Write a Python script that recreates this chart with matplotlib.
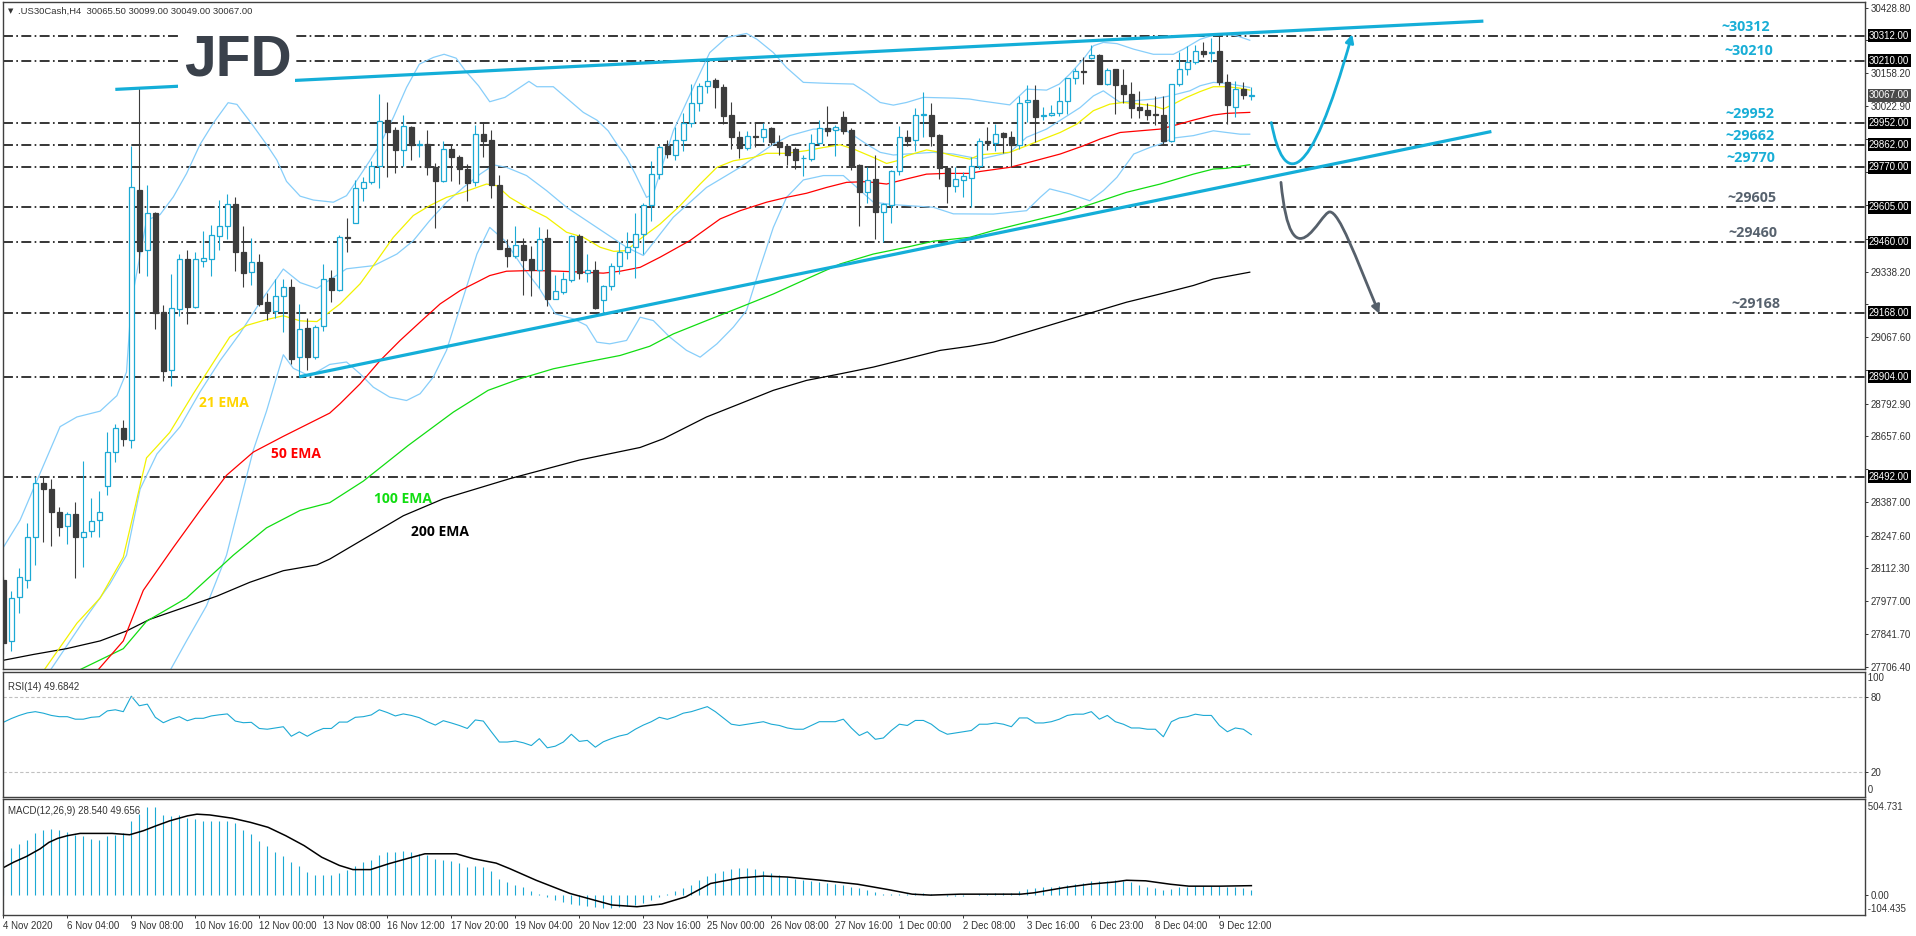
import numpy as np
import matplotlib
matplotlib.use("Agg")
import matplotlib.pyplot as plt
from matplotlib.patches import Rectangle, FancyArrowPatch
from matplotlib.path import Path

W, H = 1916, 936

# ---- price data (H4 candles) ----
opens = [28063, 27813, 27993, 28066, 28244, 28465, 28441, 28344, 28288, 28339,
         28241, 28267, 28312, 28453, 28593, 28691, 28642, 29675, 29426, 29579,
         29171, 28931, 29183, 29389, 29191, 29384, 29389, 29486, 29526, 29619,
         29421, 29336, 29376, 29212, 29175, 29236, 29273, 28984, 29105, 28987,
         29113, 29312, 29263, 29482, 29539, 29684, 29707, 29773, 29964, 29923,
         29840, 29935, 29862, 29867, 29769, 29714, 29846, 29810, 29763, 29707,
         29906, 29883, 29697, 29436, 29402, 29449, 29391, 29347, 29477, 29226,
         29253, 29304, 29486, 29333, 29343, 29222, 29279, 29361, 29421, 29439,
         29494, 29613, 29741, 29858, 29820, 29883, 29952, 30034, 30104, 30129,
         30102, 29985, 29895, 29849, 29896, 29895, 29931, 29875, 29858, 29846,
         29806, 29803, 29869, 29931, 29923, 29978, 29924, 29780, 29666, 29721,
         29583, 29615, 29755, 29895, 29882, 29985, 29985, 29904, 29766, 29693,
         29718, 29725, 29773, 29879, 29868, 29911, 29895, 29862, 30037, 30048,
         29982, 29986, 29993, 30044, 30137, 30166, 30220, 30234, 30115, 30174,
         30109, 30071, 30019, 30007, 29988, 29986, 29876, 30113, 30177, 30203,
         30250, 30242, 30250, 30122, 30020, 30092, 30065.5]
highs = [28075, 28019, 28116, 28301, 28492, 28492, 28481, 28365, 28344, 28387,
         28558, 28405, 28432, 28674, 28707, 28727, 29856, 30097, 29698, 29585,
         29199, 29328, 29413, 29429, 29421, 29505, 29531, 29635, 29659, 29646,
         29526, 29478, 29413, 29249, 29309, 29309, 29309, 29204, 29145, 29116,
         29370, 29345, 29490, 29560, 29717, 29730, 29796, 30071, 30040, 29937,
         29986, 29940, 29882, 29924, 29785, 29876, 29865, 29821, 29781, 29945,
         29957, 29924, 29739, 29473, 29528, 29477, 29443, 29523, 29515, 29326,
         29336, 29490, 29494, 29411, 29384, 29282, 29373, 29460, 29501, 29579,
         29620, 29796, 29862, 29883, 29934, 29993, 30115, 30118, 30212, 30140,
         30113, 30040, 29920, 29920, 29952, 29952, 29935, 29904, 29865, 29851,
         29821, 29906, 29966, 30023, 29944, 30003, 29931, 29783, 29769, 29820,
         29620, 29757, 29941, 29924, 30014, 30081, 30036, 29906, 29769, 29769,
         29748, 29813, 29889, 29934, 29950, 29917, 29920, 30062, 30109, 30109,
         30019, 30026, 30102, 30140, 30181, 30225, 30275, 30236, 30179, 30176,
         30174, 30122, 30085, 30034, 30064, 30064, 30115, 30246, 30271, 30274,
         30287, 30305, 30319, 30154, 30126, 30120, 30099]
lows = [27757, 27773, 27929, 28030, 28127, 28223, 28207, 28248, 28215, 28071,
        28119, 28244, 28244, 28416, 28553, 28617, 28609, 29333, 29322, 29100,
        28888, 28867, 29153, 29124, 29187, 29357, 29322, 29429, 29474, 29341,
        29273, 29281, 29196, 29137, 29148, 29087, 28955, 28904, 28934, 28979,
        29092, 29212, 29257, 29418, 29539, 29631, 29700, 29682, 29728, 29744,
        29776, 29799, 29810, 29739, 29517, 29707, 29714, 29700, 29629, 29690,
        29810, 29642, 29431, 29356, 29394, 29240, 29237, 29270, 29196, 29226,
        29246, 29295, 29308, 29295, 29185, 29167, 29263, 29329, 29391, 29312,
        29411, 29549, 29721, 29807, 29799, 29838, 29937, 30000, 30078, 30016,
        29950, 29844, 29807, 29840, 29854, 29872, 29862, 29821, 29780, 29763,
        29735, 29796, 29862, 29900, 29817, 29906, 29758, 29526, 29620, 29471,
        29460, 29538, 29739, 29858, 29838, 29893, 29858, 29721, 29620, 29668,
        29645, 29604, 29762, 29842, 29835, 29828, 29772, 29845, 29955, 29872,
        29964, 29982, 29982, 29990, 30113, 30115, 30216, 30113, 30109, 29990,
        30033, 29971, 29971, 29964, 29945, 29861, 29874, 30106, 30151, 30195,
        30225, 30206, 30110, 29950, 29975, 30051, 30049]
closes = [27805, 27990, 28079, 28244, 28465, 28442, 28344, 28285, 28339, 28244,
          28264, 28309, 28347, 28592, 28691, 28646, 29687, 29425, 29579, 29167,
          28928, 29188, 29389, 29193, 29389, 29394, 29489, 29526, 29619, 29421,
          29333, 29376, 29204, 29177, 29236, 29273, 28979, 29100, 28987, 29108,
          29309, 29263, 29480, 29478, 29684, 29707, 29773, 29960, 29917, 29840,
          29939, 29860, 29864, 29769, 29711, 29846, 29810, 29761, 29706, 29906,
          29879, 29697, 29433, 29402, 29449, 29387, 29343, 29473, 29226, 29259,
          29308, 29486, 29333, 29343, 29187, 29279, 29361, 29421, 29439, 29494,
          29613, 29741, 29854, 29824, 29883, 29952, 30034, 30104, 30125, 30099,
          29983, 29893, 29849, 29898, 29895, 29927, 29872, 29854, 29821, 29801,
          29808, 29869, 29931, 29920, 29937, 29920, 29776, 29666, 29717, 29583,
          29618, 29755, 29895, 29879, 29985, 29987, 29897, 29766, 29690, 29721,
          29732, 29773, 29876, 29868, 29906, 29893, 29862, 30034, 30047, 29979,
          29985, 29993, 30044, 30137, 30168, 30164, 30234, 30115, 30172, 30109,
          30071, 30016, 30007, 29986, 29986, 29876, 30113, 30174, 30203, 30250,
          30239, 30244, 30120, 30026, 30092, 30067, 30067]

# ---- indicator lines (bar index, value) ----
bb_up_x = [0, 2.1, 3.75, 7.1, 9.2, 12.1, 14.2, 15.4, 16, 17.9, 19.6, 21.25, 22.9, 24.6, 26.25,
           28.1, 29.2, 30.8, 32.9, 34.2, 35.4, 37.1, 38.75, 41.25, 42.9, 43.75, 45.8, 47.1,
           48.75, 50.4, 52, 53.75, 55.1, 56.6, 57.75, 59.4, 60.8, 62.7, 64.25, 65.7, 66.7,
           68.75, 70.8, 72.5, 74.2, 75.6, 76.7, 77.9, 79, 80.4, 81.25, 83.75, 86.25, 88.3,
           90.4, 92.9, 94.2, 96.25, 97.9, 100, 102.9, 106.25, 107.9, 109.6, 111.25, 112.9,
           115, 118.75, 120.8, 122.1, 125.8, 127.9, 130.4, 132, 133.3, 135, 136.25, 137.5,
           139.2, 141.3, 143.75, 146.25, 147.5, 149.6, 151.25, 152.9, 154.2, 155.8]
bb_up_y = [28199, 28312, 28440, 28698, 28738, 28762, 28826, 28923, 29212, 29550, 29574, 29647,
           29743, 29864, 29952, 30036, 30029, 29960, 29864, 29799, 29711, 29650, 29634, 29625,
           29652, 29693, 29796, 29865, 29975, 30099, 30195, 30223, 30236, 30220, 30168, 30106,
           30040, 30058, 30092, 30124, 30102, 30102, 30044, 29996, 29964, 29920, 29865, 29810,
           29741, 29645, 29659, 29920, 30099, 30243, 30305, 30322, 30298, 30243, 30181, 30120,
           30116, 30113, 30078, 30037, 30026, 30037, 30058, 30055, 30051, 30044, 30027, 30092,
           30088, 30113, 30154, 30216, 30271, 30285, 30280, 30257, 30236, 30236, 30257, 30298,
           30315, 30319, 30312, 30294]
bb_mid_x = [5.8, 10, 13.3, 15.4, 17.1, 19.2, 22.1, 24.6, 27.1, 29.6, 32.1, 35, 37.1, 39.2,
            42.9, 46.3, 49.2, 51.25, 53.3, 55.4, 57.5, 59.6, 61.3, 62.9, 65.4, 67.9, 70.4,
            72.9, 75.4, 77.9, 80, 83.75, 87.9, 92.1, 96.25, 98.3, 101.25, 104.2, 105.4, 107.9,
            109.6, 111.25, 112.9, 116.25, 118.75, 122.1, 125.8, 127.9, 130.4, 132, 134.6,
            136.25, 137.5, 139.6, 141.3, 143.75, 145.8, 148.3, 149.6, 151.25, 152.9, 154.6, 155.8]
bb_mid_y = [27688, 27894, 28047, 28167, 28440, 28585, 28698, 28842, 28971, 29084, 29212, 29349,
            29293, 29269, 29350, 29363, 29411, 29466, 29549, 29625, 29686, 29741, 29779, 29769,
            29735, 29673, 29604, 29549, 29494, 29439, 29405, 29563, 29686, 29769, 29865, 29900,
            29927, 29927, 29920, 29865, 29831, 29820, 29824, 29831, 29824, 29803, 29831, 29893,
            29927, 29961, 30016, 30064, 30085, 30037, 30044, 30051, 30064, 30085, 30106, 30120,
            30116, 30106, 30099]
bb_lo_x = [20.8, 22.9, 25.4, 27.9, 30, 31.25, 32.9, 34.2, 35, 36.25, 38.3, 40.8, 42.9, 44.6,
           46.25, 48.3, 50.4, 52.1, 53.75, 55.4, 57.1, 59.2, 60.8, 62.7, 64.8, 66.9, 69, 71.25,
           72.9, 74.2, 75.8, 77.9, 79.6, 81.25, 83.3, 85.4, 87.1, 89.2, 91.25, 92.9, 94.6,
           96.25, 97.9, 100, 102.5, 105, 106.7, 108.75, 111.25, 116.25, 118.75, 123.75, 127.9,
           129.6, 130.8, 133.3, 135.8, 137.5, 139.2, 141.3, 143.3, 144.6, 146.25, 148.75,
           151.25, 152.9, 154.6, 155.8]
bb_lo_y = [27688, 27813, 27958, 28167, 28440, 28601, 28762, 28907, 28995, 28939, 28907, 28955,
           28965, 28916, 28861, 28820, 28806, 28834, 28903, 29013, 29191, 29411, 29521, 29466,
           29363, 29274, 29164, 29143, 29116, 29047, 29040, 29054, 29150, 29136, 29068, 29013,
           28985, 29040, 29109, 29178, 29356, 29521, 29645, 29717, 29735, 29735, 29686, 29625,
           29615, 29604, 29577, 29576, 29590, 29645, 29680, 29659, 29631, 29673, 29728, 29824,
           29851, 29865, 29890, 29900, 29920, 29913, 29906, 29906]

ema21_x = [5, 9.2, 12.1, 15, 17.9, 20.8, 23.75, 26.25, 28.3, 30.4, 32.9, 35, 37.1, 39.2, 42.1,
           44.6, 46.7, 48.75, 51.25, 53.3, 55.4, 57.5, 59.2, 60.4, 61.7, 63.3, 65.4, 67.9,
           70.4, 72.5, 74.6, 76.3, 77.9, 79.6, 82.1, 84.6, 87.1, 89.2, 91.25, 93.75, 95.4,
           97.9, 100.4, 102.5, 104.6, 106.25, 108.75, 110.4, 111.7, 112.9, 115.4, 117.1,
           118.75, 120.8, 122.1, 125.8, 127.9, 130, 132.1, 134.2, 136.25, 138.3, 140, 142.1,
           143.75, 145, 146.25, 147.9, 149.6, 151.25, 152.9, 154.6, 155.8]
ema21_y = [27688, 27886, 27990, 28159, 28569, 28674, 28834, 28963, 29068, 29116, 29140, 29156,
           29135, 29132, 29205, 29288, 29384, 29480, 29570, 29611, 29645, 29666, 29686, 29700,
           29693, 29645, 29604, 29563, 29501, 29480, 29439, 29422, 29425, 29473, 29535, 29611,
           29700, 29769, 29796, 29810, 29827, 29827, 29838, 29851, 29862, 29845, 29810, 29785,
           29796, 29817, 29841, 29831, 29817, 29803, 29821, 29831, 29858, 29886, 29913, 29948,
           30003, 30030, 30037, 30030, 30023, 30010, 30030, 30058, 30082, 30102, 30102, 30096,
           30088]
ema50_x = [11.7, 15, 17.5, 21.25, 24.6, 27.9, 31.25, 35, 37.9, 40.8, 42.1, 44.6, 47.1, 49.6,
           52.1, 54.6, 57.1, 59.2, 60.8, 62.9, 66.25, 69.6, 72.5, 75, 77.1, 79.6, 82.1, 85.8,
           89.6, 92.1, 95.4, 97.9, 100.4, 102.9, 105.4, 107.9, 110.4, 112.9, 115.4, 117.9,
           120.8, 122.1, 125.8, 127.9, 132.1, 135, 137.1, 139.6, 142.1, 144.6, 146.25, 148.75,
           151.25, 152.9, 155.8]
ema50_y = [27688, 27813, 28022, 28199, 28352, 28497, 28593, 28658, 28706, 28754, 28793, 28875,
           28971, 29054, 29130, 29205, 29260, 29295, 29322, 29340, 29343, 29340, 29336, 29332,
           29340, 29356, 29398, 29466, 29556, 29590, 29625, 29645, 29662, 29686, 29707, 29710,
           29700, 29721, 29741, 29744, 29744, 29752, 29769, 29787, 29824, 29858, 29886, 29913,
           29920, 29927, 29941, 29964, 29985, 29992, 29996]
ema100_x = [9.2, 15, 17.9, 22.9, 28.75, 32.9, 37.1, 40.8, 45, 50.6, 56.25, 60.6, 64.6, 68.75,
            72.9, 77.1, 80.8, 83.75, 87.9, 92.1, 96.25, 100.4, 104.6, 108.75, 112.9, 116.25,
            120.8, 123.75, 127.9, 132.1, 136.25, 140.4, 144.6, 148.75, 151.25, 152.9, 155.8]
ema100_y = [27688, 27781, 27894, 27990, 28167, 28280, 28352, 28384, 28473, 28620, 28758, 28848,
            28896, 28937, 28965, 28992, 29030, 29081, 29136, 29191, 29246, 29308, 29370, 29411,
            29439, 29464, 29480, 29508, 29542, 29576, 29620, 29666, 29700, 29741, 29762, 29765,
            29780]
ema200_x = [0, 3.75, 7.9, 12.1, 15.4, 18.3, 22.5, 26.7, 30.8, 35, 39.2, 40.8, 50, 55, 63.4,
            72, 79.6, 82.5, 87.9, 92.1, 96.25, 100.4, 104.6, 108.75, 112.9, 117.1, 120.8,
            123.75, 127.9, 132.1, 136.25, 140.4, 144.6, 148.75, 151.25, 155.8]
ema200_y = [27733, 27757, 27781, 27813, 27854, 27902, 27950, 27998, 28055, 28103, 28127, 28151,
            28330, 28400, 28484, 28560, 28612, 28648, 28738, 28793, 28848, 28889, 28916, 28944,
            28978, 29013, 29030, 29047, 29088, 29130, 29171, 29212, 29246, 29281, 29308, 29336]

rsi = [59.5, 62.5, 65, 67, 68, 66.8, 65, 64, 64, 62, 62, 63.5, 64, 68.6, 69.5, 68, 80.3, 72.7,
       74, 63.5, 59.2, 62, 64, 60.8, 62.7, 62.7, 64.6, 65.5, 66.2, 60.5, 59.2, 59.5, 54.6, 54,
       55, 56, 48.4, 51.9, 48.4, 52, 54.6, 54.6, 59.7, 59.7, 63.5, 64, 65.4, 69.5, 67.3, 64.6,
       66.2, 65, 63.2, 60, 57.3, 60.8, 59, 57, 54.6, 61.4, 60.5, 52, 43.8, 43.8, 44.6, 43.2,
       41, 46.5, 39.2, 40.5, 43.8, 50, 44.3, 45.1, 39.7, 44, 46.5, 48.6, 50, 54, 57.3, 60,
       63.5, 61.9, 64, 66.8, 68, 70, 72, 68, 63, 58, 57, 58, 59, 60, 58, 57, 55, 54, 54, 57,
       60, 60, 60, 62, 55, 49, 52, 46, 47, 53, 58, 57, 61, 61, 58, 53, 50, 51, 52, 53, 58,
       58, 59, 58, 56, 63, 63, 59, 59, 60, 62, 65, 66, 66, 68, 62, 65, 60, 58, 55, 55, 54,
       54, 48, 60, 63, 64, 66, 65, 65, 57, 52, 55, 54, 49.68]

macd_hist = [234, 250, 267, 291, 324, 343, 345, 342, 331, 317, 309, 295, 291, 312, 317, 324,
             390, 427, 463, 463, 423, 416, 421, 404, 399, 390, 390, 388, 388, 380, 343, 321,
             286, 258, 229, 208, 173, 153, 121, 104, 104, 104, 118, 134, 151, 173, 182, 212,
             224, 229, 231, 225, 217, 213, 191, 187, 177, 168, 147, 151, 147, 125, 87, 70, 55,
             40, 22, 5, -12, -25, -35, -45, -52, -58, -63, -68, -68, -65, -58, -50, -40, -28,
             -12, 5, 20, 35, 55, 80, 100, 115, 125, 135, 140, 140, 135, 125, 115, 105, 95, 85,
             80, 75, 70, 65, 60, 55, 45, 35, 25, 15, 8, 5, 5, 8, 10, 10, 8, 3, -3, -6, -4, 0, 5,
             8, 10, 10, 10, 20, 30, 35, 40, 45, 50, 55, 60, 65, 72, 75, 75, 78, 75, 70, 55, 45,
             35, 25, 30, 40, 45, 50, 50, 50, 50, 45, 40, 35, 28.54]
sig_x = [0, 1.3, 2.9, 4.6, 5.7, 6.8, 8, 9.6, 13.6, 15.8, 17.5, 19.1, 20.8, 23, 24.2, 25.8, 28.6,
         30.9, 33.1, 35.3, 37.6, 39.8, 42, 43.7, 45.9, 48.2, 50.4, 52.7, 56.6, 58.8, 61.6,
         63.3, 66.6, 70.8, 76.1, 79.2, 82.3, 85.3, 88.4, 92, 95, 98, 102.2, 106.8, 110.6,
         113.6, 115.9, 119.6, 123.3, 127.2, 128.8, 132.7, 135.7, 138.9, 140.4, 142.8, 145.9,
         148.2, 152.1, 156]
sig_y = [144, 173, 203, 243, 277, 298, 312, 324, 324, 317, 338, 364, 390, 416, 425, 421, 404,
         382, 356, 312, 260, 199, 156, 134, 134, 165, 191, 217, 217, 191, 168, 139, 78, 9,
         -52, -61, -47, -9, 61, 90, 100, 95, 78, 57, 29, 5, 0, 5, 5, 5, 12, 40, 57, 69, 78,
         75, 57, 47, 47, 49.66]

levels = [30312, 30210, 29952, 29862, 29770, 29605, 29460, 29168, 28904, 28492]
level_notes = ["~30312", "~30210", "~29952", "~29662", "~29770", "~29605", "~29460", "~29168"]
note_levels = [30312, 30210, 29952, 29862, 29770, 29605, 29460, 29168]
note_x = [217.8, 218.2, 218.3, 218.3, 218.4, 218.6, 218.7, 219.0]
note_cyan = [True, True, True, True, True, False, False, False]
last_price = 30067.0

price_ticks = [30428.8, 30293.5, 30158.2, 30022.9, 29887.6, 29748.2, 29613.0, 29473.6, 29338.2,
               29202.9, 29067.6, 28932.3, 28792.9, 28657.6, 28522.3, 28387.0, 28247.6, 28112.3,
               27977.0, 27841.7, 27706.4]

date_labels = ["4 Nov 2020", "6 Nov 04:00", "9 Nov 08:00", "10 Nov 16:00", "12 Nov 00:00",
               "13 Nov 08:00", "16 Nov 12:00", "17 Nov 20:00", "19 Nov 04:00", "20 Nov 12:00",
               "23 Nov 16:00", "25 Nov 00:00", "26 Nov 08:00", "27 Nov 16:00", "1 Dec 00:00",
               "2 Dec 08:00", "3 Dec 16:00", "6 Dec 23:00", "8 Dec 04:00", "9 Dec 12:00"]
date_idx = [8 * k for k in range(len(date_labels))]

# trend lines: (bar, price) end points
upper_trend = ([14, 185], [30091, 30373])
lower_trend = ([37, 186], [28904, 29917])

CYAN = "#1CA9D4"
BEAR = "#3C3C3C"
FRAME = "#404040"
TXT = "#333333"
SMALL = ["Liberation Sans", "DejaVu Sans"]
NOTE = ["Open Sans", "DejaVu Sans"]


def rect(x0, y0, x1, y1):
    return [x0 / W, 1 - y1 / H, (x1 - x0) / W, (y1 - y0) / H]


fig = plt.figure(figsize=(W / 100, H / 100), dpi=100, facecolor="white")
ax = fig.add_axes(rect(2.5, 1.5, 1865, 669))
ax_r = fig.add_axes(rect(2.5, 671.5, 1865, 797))
ax_m = fig.add_axes(rect(2.5, 799, 1865, 915))

XMIN, XMAX = -0.1, 232.7
for a in (ax, ax_r, ax_m):
    a.set_xlim(XMIN, XMAX)
    a.set_facecolor("white")
    for s in a.spines.values():
        s.set_color(FRAME)
        s.set_linewidth(1.0)
    a.yaxis.tick_right()
    a.tick_params(axis="y", direction="out", length=2.2, width=0.7, colors=TXT,
                  labelsize=7, pad=2)

ax.set_ylim(27697, 30454)
ax.set_xticks([])
ax_r.set_xticks([])

idx = np.arange(len(closes))
o = np.array(opens, dtype=float)
c = np.array(closes, dtype=float)
hi = np.array(highs, dtype=float)
lo = np.array(lows, dtype=float)
bull = c >= o

# horizontal levels
for lv in levels:
    ax.axhline(lv, color="black", lw=1.1, ls=(0, (6.5, 2.2, 1.1, 2.2)), zorder=1)

# bollinger bands + EMAs
for xs, ys in ((bb_up_x, bb_up_y), (bb_mid_x, bb_mid_y), (bb_lo_x, bb_lo_y)):
    ax.plot(xs, ys, color="#87CEFA", lw=0.9, zorder=2)
ax.plot(ema200_x, ema200_y, color="black", lw=0.9, zorder=2)
ax.plot(ema100_x, ema100_y, color="#11DD11", lw=0.9, zorder=2)
ax.plot(ema50_x, ema50_y, color="#FF0000", lw=0.9, zorder=2)
ax.plot(ema21_x, ema21_y, color="#F2F200", lw=0.9, zorder=2)

# candles
ax.vlines(idx[bull], lo[bull], hi[bull], color=CYAN, lw=0.8, zorder=3)
ax.vlines(idx[~bull], lo[~bull], hi[~bull], color=BEAR, lw=0.8, zorder=3)
body_h = np.maximum(np.abs(c - o), 3)
body_b = np.minimum(o, c)
ax.bar(idx[bull], body_h[bull], bottom=body_b[bull], width=0.55, facecolor="white",
       edgecolor=CYAN, lw=0.9, zorder=4)
ax.bar(idx[~bull], body_h[~bull], bottom=body_b[~bull], width=0.55, facecolor=BEAR,
       edgecolor=BEAR, lw=0.9, zorder=4)

# trend lines
ax.plot(*upper_trend, color="#14AED8", lw=2.3, zorder=5, solid_capstyle="butt")
ax.plot(*lower_trend, color="#14AED8", lw=2.3, zorder=5, solid_capstyle="butt")

# projected paths
cyan_path = Path([(158.5, 29954), (160.0, 29690), (163.2, 29680), (168.6, 30319)],
                 [Path.MOVETO, Path.CURVE4, Path.CURVE4, Path.CURVE4])
gray_path = Path([(159.7, 29707), (161.0, 29270), (164.6, 29585), (165.8, 29585),
                  (167.0, 29585), (169.0, 29400), (172.0, 29164)],
                 [Path.MOVETO, Path.CURVE4, Path.CURVE4, Path.CURVE4,
                  Path.CURVE4, Path.CURVE4, Path.CURVE4])
ax.add_patch(FancyArrowPatch(path=cyan_path, arrowstyle="-|>", mutation_scale=12,
                             color="#14AED8", lw=2.0, zorder=6))
ax.add_patch(FancyArrowPatch(path=gray_path, arrowstyle="-|>", mutation_scale=12,
                             color="#56606B", lw=2.0, zorder=6))

# level notes
for txt, lv, xn, cy in zip(level_notes, note_levels, note_x, note_cyan):
    ax.annotate(txt, (xn, lv), xytext=(0, 1.5), textcoords="offset points",
                ha="center", va="bottom", fontsize=10.3, fontweight="bold",
                family=NOTE, color="#19AED6" if cy else "#57626E", zorder=7)

# EMA labels
ema_labels = ["21 EMA", "50 EMA", "100 EMA", "200 EMA"]
ema_label_pos = [(27.6, 28794), (36.6, 28584), (50.0, 28398), (54.6, 28262)]
ema_label_col = ["#FFD500", "#FF0000", "#11DD11", "black"]
for t, (xl, yl), col in zip(ema_labels, ema_label_pos, ema_label_col):
    ax.text(xl, yl, t, ha="center", va="center", fontsize=10, fontweight="bold",
            family=NOTE, color=col, zorder=7)

# right price scale (labels hidden behind a level box are left blank)
ax.set_yticks(price_ticks)
tick_text = []
for v in price_ticks:
    hidden = any(abs(v - lv) < 36 for lv in levels) or abs(v - last_price) < 36
    tick_text.append("" if hidden else f"{v:.2f}")
ax.set_yticklabels(tick_text, family=SMALL)
for lv in levels:
    ax.annotate(f"{lv:.2f}", (1, lv), xycoords=("axes fraction", "data"), xytext=(4, 0),
                textcoords="offset pixels", ha="left", va="center", fontsize=7,
                family=SMALL, color="white", annotation_clip=False, zorder=8,
                bbox=dict(boxstyle="square,pad=0.15", fc="black", ec="none"))
ax.annotate(f"{last_price:.2f}", (1, last_price), xycoords=("axes fraction", "data"),
            xytext=(4, 0), textcoords="offset pixels", ha="left", va="center", fontsize=7,
            family=SMALL, color="white", annotation_clip=False, zorder=8,
            bbox=dict(boxstyle="square,pad=0.15", fc="#4A4A4A", ec="none"))

# RSI panel
ax_r.set_ylim(0, 100)
ax_r.plot(idx, rsi, color=CYAN, lw=0.8)
for lv in (80, 20):
    ax_r.axhline(lv, color="#C0C0C0", lw=0.8, ls=(0, (3, 2)))
ax_r.set_yticks([80, 20])
ax_r.set_yticklabels(["80", "20"], family=SMALL)
for v, t in ((95, "100"), (5.5, "0")):
    ax_r.text(1.0, v, " " + t, transform=ax_r.get_yaxis_transform(), fontsize=7,
              family=SMALL, color=TXT, va="center", ha="left")
ax_r.text(0.003, 0.88, "RSI(14) 49.6842", transform=ax_r.transAxes, fontsize=7,
          family=SMALL, color=TXT, va="center")

# MACD panel
ax_m.set_ylim(-104.435, 504.731)
ax_m.vlines(idx, 0, macd_hist, color=CYAN, lw=0.8)
ax_m.plot(sig_x, sig_y, color="black", lw=1.1)
ax_m.set_yticks([0])
ax_m.set_yticklabels(["0.00"], family=SMALL)
for v, t in ((463, "504.731"), (-73, "-104.435")):
    ax_m.text(1.0, v, " " + t, transform=ax_m.get_yaxis_transform(), fontsize=7,
              family=SMALL, color=TXT, va="center", ha="left")
ax_m.text(0.003, 0.9, "MACD(12,26,9) 28.540 49.656", transform=ax_m.transAxes,
          fontsize=7, family=SMALL, color=TXT, va="center")
ax_m.set_xticks(date_idx)
ax_m.set_xticklabels(date_labels, ha="left", family=SMALL)
ax_m.tick_params(axis="x", direction="out", length=2.2, width=0.7, colors=TXT,
                 labelsize=7, pad=2)

# JFD logo block
fig.add_artist(Rectangle((178 / W, 1 - 88 / H), 117 / W, 66 / H, transform=fig.transFigure,
                         fc="white", ec="none", zorder=5))
fig.text(237.5 / W, 1 - 76 / H, "JFD", ha="center", va="baseline", fontsize=41,
         fontweight="bold", family=["Liberation Sans", "DejaVu Sans"],
         color="#3A414B", zorder=6)

# header
fig.text(8 / W, 1 - 11 / H, "\u25bc", fontsize=5, color=TXT, va="center")
fig.text(18 / W, 1 - 11 / H, ".US30Cash,H4  30065.50 30099.00 30049.00 30067.00",
         fontsize=6.8, family=SMALL, color=TXT, va="center")

fig.savefig("out.png", dpi=100, facecolor="white")
